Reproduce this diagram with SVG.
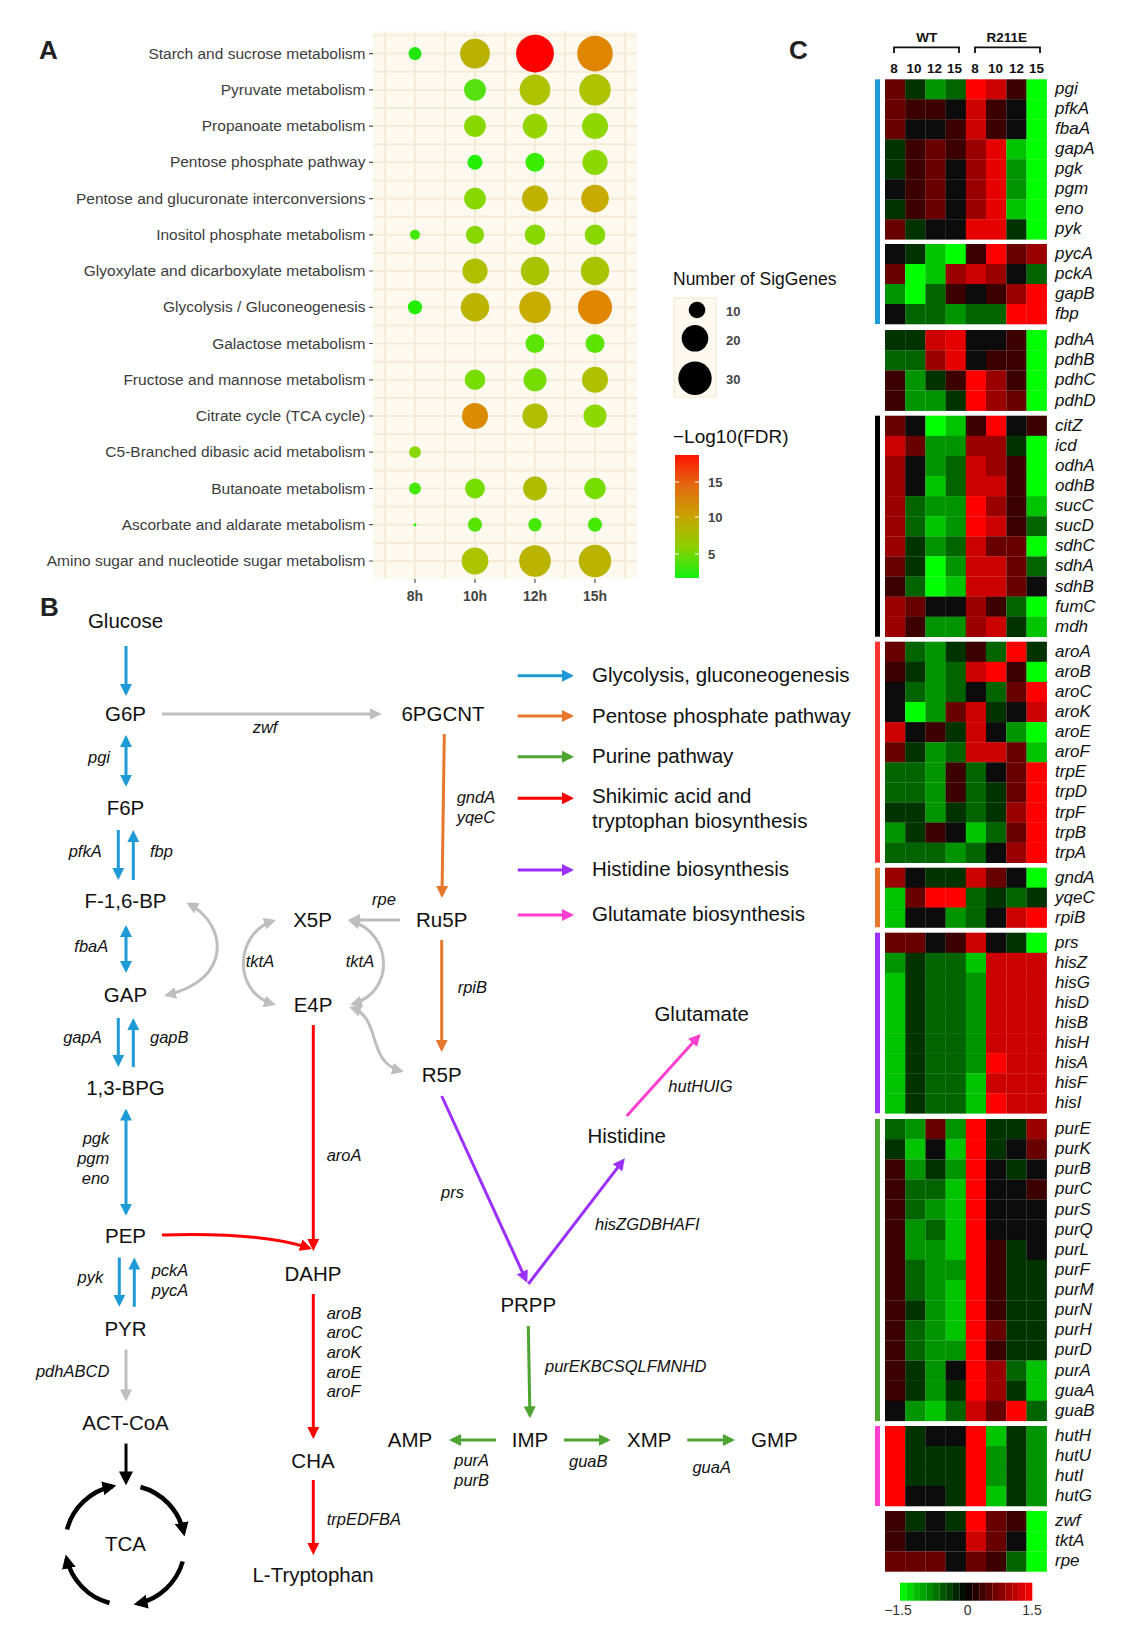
<svg xmlns="http://www.w3.org/2000/svg" width="1142" height="1648" viewBox="0 0 1142 1648">
<style>
text{font-family:"Liberation Sans",Arial,sans-serif}
.pl{font-size:26px;font-weight:bold;fill:#222}
.yl{font-size:15.5px;fill:#3c3c3c;text-anchor:end}
.xl{font-size:14px;font-weight:bold;fill:#444;text-anchor:middle}
.lt{font-size:13px;font-weight:bold;fill:#444}
.nd{font-size:20.5px;fill:#111;text-anchor:middle}
.lg{font-size:20.5px;fill:#111}
.gn{font-size:16.5px;font-style:italic;fill:#111}
.gm{font-size:16.5px;font-style:italic;fill:#111;text-anchor:middle}
.ge{font-size:16.5px;font-style:italic;fill:#111;text-anchor:end}
.hh{font-size:13.5px;font-weight:bold;fill:#111;text-anchor:middle}
.hm rect{width:20.4px;height:20.3px}
.hm text{font-size:17px;font-style:italic;fill:#111}
.hm .G{fill:#00ff00}.hm .H{fill:#00c400}.hm .M{fill:#009400}.hm .N{fill:#006400}.hm .D{fill:#003300}.hm .K{fill:#0c0c0c}
.hm .e{fill:#3c0000}.hm .f{fill:#680000}.hm .h{fill:#9a0000}.hm .i{fill:#cc0000}.hm .j{fill:#e60000}.hm .R{fill:#ff0000}
.cb{stroke:#1E9BD7}.cg{stroke:#BEBEBE}.cr{stroke:#FF0000}.co{stroke:#E8772E}.cp{stroke:#9B30FF}.cm{stroke:#FF3FCF}.cn{stroke:#4DA430}.ck{stroke:#000}
</style>
<defs>
<marker id="mb" viewBox="0 0 12 12" refX="9" refY="6" markerWidth="12" markerHeight="12" markerUnits="userSpaceOnUse" orient="auto-start-reverse"><path d="M0,0L12,6L0,12z" fill="#1E9BD7"/></marker>
<marker id="mg" viewBox="0 0 12 12" refX="9" refY="6" markerWidth="12" markerHeight="12" markerUnits="userSpaceOnUse" orient="auto-start-reverse"><path d="M0,0L12,6L0,12z" fill="#BEBEBE"/></marker>
<marker id="mr" viewBox="0 0 12 12" refX="9" refY="6" markerWidth="12" markerHeight="12" markerUnits="userSpaceOnUse" orient="auto-start-reverse"><path d="M0,0L12,6L0,12z" fill="#FF0000"/></marker>
<marker id="mo" viewBox="0 0 12 12" refX="9" refY="6" markerWidth="12" markerHeight="12" markerUnits="userSpaceOnUse" orient="auto-start-reverse"><path d="M0,0L12,6L0,12z" fill="#E8772E"/></marker>
<marker id="mp" viewBox="0 0 12 12" refX="9" refY="6" markerWidth="12" markerHeight="12" markerUnits="userSpaceOnUse" orient="auto-start-reverse"><path d="M0,0L12,6L0,12z" fill="#9B30FF"/></marker>
<marker id="mm" viewBox="0 0 12 12" refX="9" refY="6" markerWidth="12" markerHeight="12" markerUnits="userSpaceOnUse" orient="auto-start-reverse"><path d="M0,0L12,6L0,12z" fill="#FF3FCF"/></marker>
<marker id="mn" viewBox="0 0 12 12" refX="9" refY="6" markerWidth="12" markerHeight="12" markerUnits="userSpaceOnUse" orient="auto-start-reverse"><path d="M0,0L12,6L0,12z" fill="#4DA430"/></marker>
<marker id="mk" viewBox="0 0 14 14" refX="10" refY="7" markerWidth="14" markerHeight="14" markerUnits="userSpaceOnUse" orient="auto-start-reverse"><path d="M0,0L14,7L0,14z" fill="#000"/></marker>
<linearGradient id="fdr" x1="0" y1="0" x2="0" y2="1">
<stop offset="0" stop-color="#ff1400"/><stop offset="0.25" stop-color="#e26a10"/><stop offset="0.5" stop-color="#c8a400"/><stop offset="0.75" stop-color="#8cd000"/><stop offset="1" stop-color="#14f014"/>
</linearGradient>
</defs>
<rect width="1142" height="1648" fill="#fff"/>

<!-- Panel A -->
<g id="panelA">
<text class="pl" x="39" y="59">A</text>
<rect x="373" y="31.5" width="264" height="547.5" fill="#FDF9EE"/>
<path stroke="#F4ECD6" stroke-width="2" fill="none" d="M385,31.5V579M415,31.5V579M445,31.5V579M475,31.5V579M505,31.5V579M535,31.5V579M565,31.5V579M595,31.5V579M625,31.5V579M373,35.5H637M373,53.6H637M373,71.7H637M373,89.9H637M373,108H637M373,126.1H637M373,144.2H637M373,162.3H637M373,180.5H637M373,198.6H637M373,216.7H637M373,234.8H637M373,252.9H637M373,271.1H637M373,289.2H637M373,307.3H637M373,325.4H637M373,343.5H637M373,361.7H637M373,379.8H637M373,397.9H637M373,416H637M373,434.1H637M373,452.3H637M373,470.4H637M373,488.5H637M373,506.6H637M373,524.7H637M373,542.9H637M373,561H637"/>
<path stroke="#555" stroke-width="1.2" d="M369,53.6H373M369,89.8H373M369,126.1H373M369,162.3H373M369,198.6H373M369,234.8H373M369,271H373M369,307.3H373M369,343.5H373M369,379.8H373M369,416H373M369,452.2H373M369,488.5H373M369,524.7H373M369,561H373M415,579V583M475,579V583M535,579V583M595,579V583"/>
<text class="yl" x="365.5" y="58.6">Starch and sucrose metabolism</text>
<text class="yl" x="365.5" y="94.8">Pyruvate metabolism</text>
<text class="yl" x="365.5" y="131.1">Propanoate metabolism</text>
<text class="yl" x="365.5" y="167.3">Pentose phosphate pathway</text>
<text class="yl" x="365.5" y="203.6">Pentose and glucuronate interconversions</text>
<text class="yl" x="365.5" y="239.8">Inositol phosphate metabolism</text>
<text class="yl" x="365.5" y="276">Glyoxylate and dicarboxylate metabolism</text>
<text class="yl" x="365.5" y="312.3">Glycolysis / Gluconeogenesis</text>
<text class="yl" x="365.5" y="348.5">Galactose metabolism</text>
<text class="yl" x="365.5" y="384.8">Fructose and mannose metabolism</text>
<text class="yl" x="365.5" y="421">Citrate cycle (TCA cycle)</text>
<text class="yl" x="365.5" y="457.2">C5-Branched dibasic acid metabolism</text>
<text class="yl" x="365.5" y="493.5">Butanoate metabolism</text>
<text class="yl" x="365.5" y="529.7">Ascorbate and aldarate metabolism</text>
<text class="yl" x="365.5" y="566">Amino sugar and nucleotide sugar metabolism</text>
<text class="xl" x="415" y="601">8h</text>
<text class="xl" x="475" y="601">10h</text>
<text class="xl" x="535" y="601">12h</text>
<text class="xl" x="595" y="601">15h</text>
<g id="dots">
<circle cx="415" cy="53.6" r="6.5" fill="#22e611"/><circle cx="475" cy="53.6" r="14.9" fill="#bab000"/><circle cx="535" cy="53.6" r="18.9" fill="#ff0000"/><circle cx="595" cy="53.6" r="17.8" fill="#e08500"/>
<circle cx="475" cy="89.8" r="10.9" fill="#55e010"/><circle cx="535" cy="89.8" r="15.4" fill="#aec300"/><circle cx="595" cy="89.8" r="15.8" fill="#aec300"/>
<circle cx="475" cy="126.1" r="10.9" fill="#88d800"/><circle cx="535" cy="126.1" r="12.3" fill="#96d400"/><circle cx="595" cy="126.1" r="13" fill="#90d600"/>
<circle cx="475" cy="162.3" r="7.5" fill="#22f000"/><circle cx="535" cy="162.3" r="9.5" fill="#3aec00"/><circle cx="595" cy="162.3" r="12.6" fill="#8cd800"/>
<circle cx="475" cy="198.6" r="10.9" fill="#88d800"/><circle cx="535" cy="198.6" r="13" fill="#bfb200"/><circle cx="595" cy="198.6" r="13.8" fill="#c9aa00"/>
<circle cx="415" cy="234.8" r="5" fill="#44e800"/><circle cx="475" cy="234.8" r="9.1" fill="#88d800"/><circle cx="535" cy="234.8" r="10.3" fill="#88d800"/><circle cx="595" cy="234.8" r="10.3" fill="#88d800"/>
<circle cx="475" cy="271" r="12.6" fill="#b0c000"/><circle cx="535" cy="271" r="14.2" fill="#a8c400"/><circle cx="595" cy="271" r="14.2" fill="#a8c400"/>
<circle cx="415" cy="307.3" r="7.1" fill="#22ee00"/><circle cx="475" cy="307.3" r="14.2" fill="#bbb400"/><circle cx="535" cy="307.3" r="15.8" fill="#c8ac00"/><circle cx="595" cy="307.3" r="17" fill="#e08600"/>
<circle cx="535" cy="343.5" r="9.5" fill="#5ae400"/><circle cx="595" cy="343.5" r="9.5" fill="#5ae400"/>
<circle cx="475" cy="379.8" r="10.3" fill="#77dc00"/><circle cx="535" cy="379.8" r="11.5" fill="#77dc00"/><circle cx="595" cy="379.8" r="13" fill="#b0c000"/>
<circle cx="475" cy="416" r="13" fill="#da8c00"/><circle cx="535" cy="416" r="12.6" fill="#b2bc00"/><circle cx="595" cy="416" r="11.5" fill="#8cd800"/>
<circle cx="415" cy="452.2" r="5.9" fill="#88d800"/>
<circle cx="415" cy="488.5" r="5.9" fill="#44e800"/><circle cx="475" cy="488.5" r="9.9" fill="#77dc00"/><circle cx="535" cy="488.5" r="11.9" fill="#b0bc00"/><circle cx="595" cy="488.5" r="10.7" fill="#77dc00"/>
<circle cx="415" cy="524.7" r="1.5" fill="#22ee00"/><circle cx="475" cy="524.7" r="7.1" fill="#55e400"/><circle cx="535" cy="524.7" r="6.7" fill="#44e800"/><circle cx="595" cy="524.7" r="7.1" fill="#44e800"/>
<circle cx="475" cy="561" r="13.4" fill="#aac400"/><circle cx="535" cy="561" r="15.8" fill="#bab400"/><circle cx="595" cy="561" r="16.2" fill="#bab400"/>
</g>
<g id="legendA">
<text x="673" y="285" font-size="17.5" fill="#111">Number of SigGenes</text>
<rect x="674" y="298" width="42" height="99" fill="#FDF9EE" stroke="#F1E6C8"/>
<circle cx="697" cy="310" r="8.3" fill="#000"/>
<circle cx="695" cy="338.3" r="13.3" fill="#000"/>
<circle cx="695" cy="378.3" r="16.7" fill="#000"/>
<text class="lt" x="726" y="316">10</text>
<text class="lt" x="726" y="345">20</text>
<text class="lt" x="726" y="383.5">30</text>
<text x="673" y="443" font-size="19" fill="#111">−Log10(FDR)</text>
<rect x="675" y="455" width="24" height="123" fill="url(#fdr)"/>
<path stroke="#fff" stroke-width="1.2" d="M675,482H679M695,482H699M675,517H679M695,517H699M675,554H679M695,554H699"/>
<text class="lt" x="708" y="486.5">15</text>
<text class="lt" x="708" y="521.5">10</text>
<text class="lt" x="708" y="558.5">5</text>
</g>
</g>

<!-- Panel B -->
<text class="pl" x="40" y="615.7">B</text>
<g id="connectors" fill="none" stroke-width="3">
<path class="cb" d="M126,646V693" marker-end="url(#mb)"/>
<path class="cb" d="M126,738V783.7" marker-start="url(#mb)" marker-end="url(#mb)"/>
<path class="cb" d="M118.3,830V877" marker-end="url(#mb)"/>
<path class="cb" d="M133.3,880V833" marker-end="url(#mb)"/>
<path class="cb" d="M126,928V970" marker-start="url(#mb)" marker-end="url(#mb)"/>
<path class="cb" d="M118.3,1018V1064" marker-end="url(#mb)"/>
<path class="cb" d="M133.3,1067V1021" marker-end="url(#mb)"/>
<path class="cb" d="M126,1111.6V1212.7" marker-start="url(#mb)" marker-end="url(#mb)"/>
<path class="cb" d="M119.3,1257.5V1303.8" marker-end="url(#mb)"/>
<path class="cb" d="M134.3,1306.8V1260.5" marker-end="url(#mb)"/>
<path class="cg" d="M162,714H378.7" marker-end="url(#mg)"/>
<path class="cg" d="M126,1349.6V1398.4" marker-end="url(#mg)"/>
<path class="cg" d="M400,920H351" marker-end="url(#mg)"/>
<path class="cg" d="M189,904C228,925 232,980 167,995" marker-start="url(#mg)" marker-end="url(#mg)"/>
<path class="cg" d="M273,921C235,933 232,992 273,1004" marker-start="url(#mg)" marker-end="url(#mg)"/>
<path class="cg" d="M351,921C393,933 395,992 353,1004" marker-start="url(#mg)" marker-end="url(#mg)"/>
<path class="cg" d="M352,1008C382,1018 366,1062 401,1071" marker-start="url(#mg)" marker-end="url(#mg)"/>
<path class="cr" d="M313.3,1025V1248" marker-end="url(#mr)"/>
<path class="cr" d="M162,1235C230,1233 280,1238 309,1248" marker-end="url(#mr)"/>
<path class="cr" d="M313.3,1294V1436" marker-end="url(#mr)"/>
<path class="cr" d="M313.3,1480V1552" marker-end="url(#mr)"/>
<path class="co" d="M444.3,734L442,895" marker-end="url(#mo)"/>
<path class="co" d="M441.7,940V1049" marker-end="url(#mo)"/>
<path class="cp" d="M441.7,1096L526,1280" marker-end="url(#mp)"/>
<path class="cp" d="M528.3,1284L623,1160.6" marker-end="url(#mp)"/>
<path class="cm" d="M626.7,1116L698.6,1036.2" marker-end="url(#mm)"/>
<path class="cn" d="M528.3,1326L529.9,1415.3" marker-end="url(#mn)"/>
<path class="cn" d="M496,1440H452" marker-end="url(#mn)"/>
<path class="cn" d="M564,1440H607.7" marker-end="url(#mn)"/>
<path class="cn" d="M687.3,1440H732" marker-end="url(#mn)"/>
<path class="ck" d="M126,1443.6V1481.4" marker-end="url(#mk)"/>
<g stroke-width="4.5">
<path class="ck" d="M67,1529.5A60,60 0 0 1 112.5,1486.3" marker-end="url(#mk)"/>
<path class="ck" d="M140.5,1487A60,60 0 0 1 183.7,1532.5" marker-end="url(#mk)"/>
<path class="ck" d="M182.7,1561.5A60,60 0 0 1 137.5,1603.7" marker-end="url(#mk)"/>
<path class="ck" d="M109.5,1603A60,60 0 0 1 66.6,1558.5" marker-end="url(#mk)"/>
</g>
<path class="cb" d="M517.7,675.7H571" marker-end="url(#mb)"/>
<path class="co" d="M517.7,716H571" marker-end="url(#mo)"/>
<path class="cn" d="M517.7,756.7H571" marker-end="url(#mn)"/>
<path class="cr" d="M517.7,798.3H571" marker-end="url(#mr)"/>
<path class="cp" d="M517.7,870H571" marker-end="url(#mp)"/>
<path class="cm" d="M517.7,915H571" marker-end="url(#mm)"/>
</g>
<g id="genes">
<text class="gm" x="265" y="733">zwf</text>
<text class="ge" x="110" y="763">pgi</text>
<text class="ge" x="101.7" y="856.7">pfkA</text>
<text class="gn" x="150" y="856.7">fbp</text>
<text class="ge" x="108.3" y="951.7">fbaA</text>
<text class="ge" x="101.7" y="1043">gapA</text>
<text class="gn" x="150" y="1043">gapB</text>
<text class="ge" x="109.3" y="1143.6">pgk</text>
<text class="ge" x="109.3" y="1163.6">pgm</text>
<text class="ge" x="109.3" y="1183.6">eno</text>
<text class="ge" x="103.3" y="1283">pyk</text>
<text class="gn" x="151.7" y="1275.7">pckA</text>
<text class="gn" x="151.7" y="1296">pycA</text>
<text class="ge" x="109.3" y="1377">pdhABCD</text>
<text class="gm" x="384" y="905">rpe</text>
<text class="gm" x="260" y="966.7">tktA</text>
<text class="gm" x="360" y="966.7">tktA</text>
<text class="gn" x="456.7" y="802.7">gndA</text>
<text class="gn" x="456.7" y="822.7">yqeC</text>
<text class="gn" x="457.7" y="993.3">rpiB</text>
<text class="gn" x="326.7" y="1161.4">aroA</text>
<text class="gn" x="326.7" y="1318.6">aroB</text>
<text class="gn" x="326.7" y="1337.9">aroC</text>
<text class="gn" x="326.7" y="1357.9">aroK</text>
<text class="gn" x="326.7" y="1377.9">aroE</text>
<text class="gn" x="326.7" y="1397.1">aroF</text>
<text class="gn" x="326.7" y="1524.6">trpEDFBA</text>
<text class="gn" x="441" y="1197.7">prs</text>
<text class="gn" x="595" y="1230">hisZGDBHAFI</text>
<text class="gn" x="668.3" y="1091.7">hutHUIG</text>
<text class="gn" x="545" y="1371.7">purEKBCSQLFMNHD</text>
<text class="gm" x="471.7" y="1466">purA</text>
<text class="gm" x="471.7" y="1485.7">purB</text>
<text class="gm" x="588.3" y="1466.7">guaB</text>
<text class="gm" x="711.7" y="1472.7">guaA</text>
</g>
<g id="n-glucose"><text class="nd" x="125.5" y="628">Glucose</text></g>
<g id="n-g6p"><text class="nd" x="125.5" y="721">G6P</text></g>
<g id="n-f6p"><text class="nd" x="125.5" y="815">F6P</text></g>
<g id="n-f16bp"><text class="nd" x="125.5" y="908">F-1,6-BP</text></g>
<g id="n-gap"><text class="nd" x="125.5" y="1001.5">GAP</text></g>
<g id="n-13bpg"><text class="nd" x="125.5" y="1095">1,3-BPG</text></g>
<g id="n-pep"><text class="nd" x="125.5" y="1243">PEP</text></g>
<g id="n-pyr"><text class="nd" x="125.5" y="1336">PYR</text></g>
<g id="n-actcoa"><text class="nd" x="125.5" y="1430">ACT-CoA</text></g>
<g id="n-tca"><text class="nd" x="125.5" y="1551">TCA</text></g>
<g id="n-6pgcnt"><text class="nd" x="443" y="721">6PGCNT</text></g>
<g id="n-x5p"><text class="nd" x="312.5" y="926.7">X5P</text></g>
<g id="n-e4p"><text class="nd" x="313" y="1011.7">E4P</text></g>
<g id="n-ru5p"><text class="nd" x="441.7" y="926.7">Ru5P</text></g>
<g id="n-r5p"><text class="nd" x="441.7" y="1081.7">R5P</text></g>
<g id="n-dahp"><text class="nd" x="313" y="1281">DAHP</text></g>
<g id="n-cha"><text class="nd" x="313" y="1467.5">CHA</text></g>
<g id="n-ltrp"><text class="nd" x="313" y="1582">L-Tryptophan</text></g>
<g id="n-glutamate"><text class="nd" x="701.7" y="1020.7">Glutamate</text></g>
<g id="n-histidine"><text class="nd" x="626.7" y="1143.3">Histidine</text></g>
<g id="n-prpp"><text class="nd" x="528.3" y="1311.7">PRPP</text></g>
<g id="n-amp"><text class="nd" x="410" y="1446.7">AMP</text></g>
<g id="n-imp"><text class="nd" x="530" y="1446.7">IMP</text></g>
<g id="n-xmp"><text class="nd" x="649.3" y="1446.7">XMP</text></g>
<g id="n-gmp"><text class="nd" x="774.3" y="1446.7">GMP</text></g>
<g id="legendB">
<text class="lg" x="592" y="681.7">Glycolysis, gluconeogenesis</text>
<text class="lg" x="592" y="722.7">Pentose phosphate pathway</text>
<text class="lg" x="592" y="763.3">Purine pathway</text>
<text class="lg" x="592" y="803.3">Shikimic acid and</text>
<text class="lg" x="592" y="828.3">tryptophan biosynthesis</text>
<text class="lg" x="592" y="876">Histidine biosynthesis</text>
<text class="lg" x="592" y="920.7">Glutamate biosynthesis</text>
</g>

<!-- Panel C -->
<g id="panelC">
<text class="pl" x="789" y="59.3">C</text>
<text class="hh" x="926.7" y="42" font-size="14">WT</text>
<text class="hh" x="1006.7" y="42" font-size="14">R211E</text>
<path d="M894,53V47.3H959V53M975,53V47.3H1040V53" fill="none" stroke="#111" stroke-width="1.8"/>
<text class="hh" x="894" y="73.3">8</text><text class="hh" x="914" y="73.3">10</text><text class="hh" x="934.5" y="73.3">12</text><text class="hh" x="954.5" y="73.3">15</text>
<text class="hh" x="975" y="73.3">8</text><text class="hh" x="995.5" y="73.3">10</text><text class="hh" x="1016.5" y="73.3">12</text><text class="hh" x="1036.5" y="73.3">15</text>
<rect x="875" y="79.3" width="5" height="244.7" fill="#1E9BD7"/>
<rect x="875" y="415.7" width="5" height="221" fill="#000"/>
<rect x="875" y="641.7" width="5" height="221" fill="#FF3333"/>
<rect x="875" y="867.7" width="5" height="59.6" fill="#E8772E"/>
<rect x="875" y="932.7" width="5" height="180.6" fill="#9B30FF"/>
<rect x="875" y="1119" width="5" height="302" fill="#4DA430"/>
<rect x="875" y="1426" width="5" height="80" fill="#FF3FCF"/>
<g class="hm">
<g transform="translate(885,79.3)"><rect class="f"/><rect x="20.2" class="D"/><rect x="40.4" class="M"/><rect x="60.6" class="N"/><rect x="80.8" class="R"/><rect x="101" class="i"/><rect x="121.3" class="e"/><rect x="141.5" class="G"/><text x="170" y="15">pgi</text></g>
<g transform="translate(885,99.3)"><rect class="f"/><rect x="20.2" class="e"/><rect x="40.4" class="e"/><rect x="60.6" class="K"/><rect x="80.8" class="i"/><rect x="101" class="e"/><rect x="121.3" class="K"/><rect x="141.5" class="G"/><text x="170" y="15">pfkA</text></g>
<g transform="translate(885,119.3)"><rect class="f"/><rect x="20.2" class="K"/><rect x="40.4" class="K"/><rect x="60.6" class="e"/><rect x="80.8" class="i"/><rect x="101" class="e"/><rect x="121.3" class="K"/><rect x="141.5" class="G"/><text x="170" y="15">fbaA</text></g>
<g transform="translate(885,139.3)"><rect class="D"/><rect x="20.2" class="e"/><rect x="40.4" class="f"/><rect x="60.6" class="e"/><rect x="80.8" class="h"/><rect x="101" class="j"/><rect x="121.3" class="H"/><rect x="141.5" class="G"/><text x="170" y="15">gapA</text></g>
<g transform="translate(885,159.3)"><rect class="D"/><rect x="20.2" class="e"/><rect x="40.4" class="f"/><rect x="60.6" class="K"/><rect x="80.8" class="h"/><rect x="101" class="j"/><rect x="121.3" class="M"/><rect x="141.5" class="G"/><text x="170" y="15">pgk</text></g>
<g transform="translate(885,179.3)"><rect class="K"/><rect x="20.2" class="e"/><rect x="40.4" class="f"/><rect x="60.6" class="K"/><rect x="80.8" class="h"/><rect x="101" class="j"/><rect x="121.3" class="M"/><rect x="141.5" class="G"/><text x="170" y="15">pgm</text></g>
<g transform="translate(885,199.3)"><rect class="D"/><rect x="20.2" class="e"/><rect x="40.4" class="f"/><rect x="60.6" class="K"/><rect x="80.8" class="h"/><rect x="101" class="j"/><rect x="121.3" class="H"/><rect x="141.5" class="G"/><text x="170" y="15">eno</text></g>
<g transform="translate(885,219.3)"><rect class="f"/><rect x="20.2" class="D"/><rect x="40.4" class="K"/><rect x="60.6" class="K"/><rect x="80.8" class="j"/><rect x="101" class="j"/><rect x="121.3" class="D"/><rect x="141.5" class="G"/><text x="170" y="15">pyk</text></g>
<g transform="translate(885,244)"><rect class="K"/><rect x="20.2" class="D"/><rect x="40.4" class="H"/><rect x="60.6" class="G"/><rect x="80.8" class="e"/><rect x="101" class="R"/><rect x="121.3" class="f"/><rect x="141.5" class="h"/><text x="170" y="15">pycA</text></g>
<g transform="translate(885,264)"><rect class="f"/><rect x="20.2" class="G"/><rect x="40.4" class="H"/><rect x="60.6" class="h"/><rect x="80.8" class="i"/><rect x="101" class="h"/><rect x="121.3" class="K"/><rect x="141.5" class="N"/><text x="170" y="15">pckA</text></g>
<g transform="translate(885,284)"><rect class="M"/><rect x="20.2" class="G"/><rect x="40.4" class="N"/><rect x="60.6" class="e"/><rect x="80.8" class="K"/><rect x="101" class="e"/><rect x="121.3" class="h"/><rect x="141.5" class="R"/><text x="170" y="15">gapB</text></g>
<g transform="translate(885,304)"><rect class="K"/><rect x="20.2" class="N"/><rect x="40.4" class="N"/><rect x="60.6" class="M"/><rect x="80.8" class="N"/><rect x="101" class="N"/><rect x="121.3" class="R"/><rect x="141.5" class="R"/><text x="170" y="15">fbp</text></g>
<g transform="translate(885,330)"><rect class="D"/><rect x="20.2" class="D"/><rect x="40.4" class="i"/><rect x="60.6" class="j"/><rect x="80.8" class="K"/><rect x="101" class="K"/><rect x="121.3" class="e"/><rect x="141.5" class="G"/><text x="170" y="15">pdhA</text></g>
<g transform="translate(885,350.2)"><rect class="N"/><rect x="20.2" class="N"/><rect x="40.4" class="h"/><rect x="60.6" class="j"/><rect x="80.8" class="K"/><rect x="101" class="e"/><rect x="121.3" class="e"/><rect x="141.5" class="G"/><text x="170" y="15">pdhB</text></g>
<g transform="translate(885,370.4)"><rect class="e"/><rect x="20.2" class="M"/><rect x="40.4" class="D"/><rect x="60.6" class="e"/><rect x="80.8" class="R"/><rect x="101" class="h"/><rect x="121.3" class="e"/><rect x="141.5" class="G"/><text x="170" y="15">pdhC</text></g>
<g transform="translate(885,390.6)"><rect class="e"/><rect x="20.2" class="M"/><rect x="40.4" class="M"/><rect x="60.6" class="D"/><rect x="80.8" class="R"/><rect x="101" class="h"/><rect x="121.3" class="f"/><rect x="141.5" class="G"/><text x="170" y="15">pdhD</text></g>
<g transform="translate(885,415.7)"><rect class="f"/><rect x="20.2" class="K"/><rect x="40.4" class="G"/><rect x="60.6" class="H"/><rect x="80.8" class="e"/><rect x="101" class="R"/><rect x="121.3" class="K"/><rect x="141.5" class="e"/><text x="170" y="15">citZ</text></g>
<g transform="translate(885,435.8)"><rect class="i"/><rect x="20.2" class="f"/><rect x="40.4" class="M"/><rect x="60.6" class="M"/><rect x="80.8" class="h"/><rect x="101" class="h"/><rect x="121.3" class="D"/><rect x="141.5" class="G"/><text x="170" y="15">icd</text></g>
<g transform="translate(885,455.9)"><rect class="h"/><rect x="20.2" class="K"/><rect x="40.4" class="M"/><rect x="60.6" class="N"/><rect x="80.8" class="i"/><rect x="101" class="h"/><rect x="121.3" class="e"/><rect x="141.5" class="G"/><text x="170" y="15">odhA</text></g>
<g transform="translate(885,476)"><rect class="h"/><rect x="20.2" class="K"/><rect x="40.4" class="H"/><rect x="60.6" class="N"/><rect x="80.8" class="i"/><rect x="101" class="i"/><rect x="121.3" class="e"/><rect x="141.5" class="G"/><text x="170" y="15">odhB</text></g>
<g transform="translate(885,496.1)"><rect class="h"/><rect x="20.2" class="N"/><rect x="40.4" class="M"/><rect x="60.6" class="M"/><rect x="80.8" class="R"/><rect x="101" class="h"/><rect x="121.3" class="e"/><rect x="141.5" class="H"/><text x="170" y="15">sucC</text></g>
<g transform="translate(885,516.2)"><rect class="h"/><rect x="20.2" class="N"/><rect x="40.4" class="H"/><rect x="60.6" class="M"/><rect x="80.8" class="R"/><rect x="101" class="i"/><rect x="121.3" class="e"/><rect x="141.5" class="N"/><text x="170" y="15">sucD</text></g>
<g transform="translate(885,536.3)"><rect class="h"/><rect x="20.2" class="D"/><rect x="40.4" class="M"/><rect x="60.6" class="N"/><rect x="80.8" class="i"/><rect x="101" class="f"/><rect x="121.3" class="f"/><rect x="141.5" class="G"/><text x="170" y="15">sdhC</text></g>
<g transform="translate(885,556.4)"><rect class="f"/><rect x="20.2" class="D"/><rect x="40.4" class="G"/><rect x="60.6" class="M"/><rect x="80.8" class="i"/><rect x="101" class="i"/><rect x="121.3" class="f"/><rect x="141.5" class="N"/><text x="170" y="15">sdhA</text></g>
<g transform="translate(885,576.5)"><rect class="e"/><rect x="20.2" class="N"/><rect x="40.4" class="G"/><rect x="60.6" class="H"/><rect x="80.8" class="i"/><rect x="101" class="i"/><rect x="121.3" class="f"/><rect x="141.5" class="K"/><text x="170" y="15">sdhB</text></g>
<g transform="translate(885,596.6)"><rect class="h"/><rect x="20.2" class="f"/><rect x="40.4" class="K"/><rect x="60.6" class="K"/><rect x="80.8" class="h"/><rect x="101" class="e"/><rect x="121.3" class="N"/><rect x="141.5" class="G"/><text x="170" y="15">fumC</text></g>
<g transform="translate(885,616.7)"><rect class="h"/><rect x="20.2" class="e"/><rect x="40.4" class="M"/><rect x="60.6" class="M"/><rect x="80.8" class="h"/><rect x="101" class="i"/><rect x="121.3" class="D"/><rect x="141.5" class="H"/><text x="170" y="15">mdh</text></g>
<g transform="translate(885,641.7)"><rect class="f"/><rect x="20.2" class="N"/><rect x="40.4" class="M"/><rect x="60.6" class="D"/><rect x="80.8" class="e"/><rect x="101" class="N"/><rect x="121.3" class="R"/><rect x="141.5" class="D"/><text x="170" y="15">aroA</text></g>
<g transform="translate(885,661.8)"><rect class="e"/><rect x="20.2" class="D"/><rect x="40.4" class="M"/><rect x="60.6" class="N"/><rect x="80.8" class="i"/><rect x="101" class="R"/><rect x="121.3" class="e"/><rect x="141.5" class="G"/><text x="170" y="15">aroB</text></g>
<g transform="translate(885,681.9)"><rect class="K"/><rect x="20.2" class="N"/><rect x="40.4" class="M"/><rect x="60.6" class="N"/><rect x="80.8" class="K"/><rect x="101" class="N"/><rect x="121.3" class="f"/><rect x="141.5" class="R"/><text x="170" y="15">aroC</text></g>
<g transform="translate(885,702)"><rect class="K"/><rect x="20.2" class="G"/><rect x="40.4" class="M"/><rect x="60.6" class="f"/><rect x="80.8" class="i"/><rect x="101" class="D"/><rect x="121.3" class="K"/><rect x="141.5" class="i"/><text x="170" y="15">aroK</text></g>
<g transform="translate(885,722.1)"><rect class="i"/><rect x="20.2" class="K"/><rect x="40.4" class="e"/><rect x="60.6" class="D"/><rect x="80.8" class="i"/><rect x="101" class="K"/><rect x="121.3" class="M"/><rect x="141.5" class="G"/><text x="170" y="15">aroE</text></g>
<g transform="translate(885,742.2)"><rect class="f"/><rect x="20.2" class="D"/><rect x="40.4" class="M"/><rect x="60.6" class="N"/><rect x="80.8" class="i"/><rect x="101" class="i"/><rect x="121.3" class="f"/><rect x="141.5" class="H"/><text x="170" y="15">aroF</text></g>
<g transform="translate(885,762.3)"><rect class="N"/><rect x="20.2" class="N"/><rect x="40.4" class="M"/><rect x="60.6" class="e"/><rect x="80.8" class="N"/><rect x="101" class="K"/><rect x="121.3" class="f"/><rect x="141.5" class="R"/><text x="170" y="15">trpE</text></g>
<g transform="translate(885,782.4)"><rect class="N"/><rect x="20.2" class="N"/><rect x="40.4" class="M"/><rect x="60.6" class="e"/><rect x="80.8" class="N"/><rect x="101" class="D"/><rect x="121.3" class="f"/><rect x="141.5" class="R"/><text x="170" y="15">trpD</text></g>
<g transform="translate(885,802.5)"><rect class="D"/><rect x="20.2" class="D"/><rect x="40.4" class="M"/><rect x="60.6" class="D"/><rect x="80.8" class="N"/><rect x="101" class="D"/><rect x="121.3" class="h"/><rect x="141.5" class="R"/><text x="170" y="15">trpF</text></g>
<g transform="translate(885,822.6)"><rect class="M"/><rect x="20.2" class="D"/><rect x="40.4" class="e"/><rect x="60.6" class="K"/><rect x="80.8" class="H"/><rect x="101" class="N"/><rect x="121.3" class="f"/><rect x="141.5" class="R"/><text x="170" y="15">trpB</text></g>
<g transform="translate(885,842.7)"><rect class="N"/><rect x="20.2" class="N"/><rect x="40.4" class="N"/><rect x="60.6" class="M"/><rect x="80.8" class="N"/><rect x="101" class="K"/><rect x="121.3" class="h"/><rect x="141.5" class="R"/><text x="170" y="15">trpA</text></g>
<g transform="translate(885,867.7)"><rect class="h"/><rect x="20.2" class="K"/><rect x="40.4" class="D"/><rect x="60.6" class="D"/><rect x="80.8" class="i"/><rect x="101" class="f"/><rect x="121.3" class="K"/><rect x="141.5" class="G"/><text x="170" y="15">gndA</text></g>
<g transform="translate(885,887.6)"><rect class="H"/><rect x="20.2" class="f"/><rect x="40.4" class="R"/><rect x="60.6" class="R"/><rect x="80.8" class="N"/><rect x="101" class="D"/><rect x="121.3" class="N"/><rect x="141.5" class="D"/><text x="170" y="15">yqeC</text></g>
<g transform="translate(885,907.5)"><rect class="H"/><rect x="20.2" class="K"/><rect x="40.4" class="K"/><rect x="60.6" class="M"/><rect x="80.8" class="N"/><rect x="101" class="K"/><rect x="121.3" class="i"/><rect x="141.5" class="R"/><text x="170" y="15">rpiB</text></g>
<g transform="translate(885,932.7)"><rect class="f"/><rect x="20.2" class="f"/><rect x="40.4" class="K"/><rect x="60.6" class="e"/><rect x="80.8" class="i"/><rect x="101" class="K"/><rect x="121.3" class="D"/><rect x="141.5" class="G"/><text x="170" y="15">prs</text></g>
<g transform="translate(885,952.8)"><rect class="M"/><rect x="20.2" class="D"/><rect x="40.4" class="N"/><rect x="60.6" class="N"/><rect x="80.8" class="H"/><rect x="101" class="i"/><rect x="121.3" class="i"/><rect x="141.5" class="i"/><text x="170" y="15">hisZ</text></g>
<g transform="translate(885,972.8)"><rect class="H"/><rect x="20.2" class="D"/><rect x="40.4" class="N"/><rect x="60.6" class="N"/><rect x="80.8" class="M"/><rect x="101" class="i"/><rect x="121.3" class="i"/><rect x="141.5" class="i"/><text x="170" y="15">hisG</text></g>
<g transform="translate(885,992.9)"><rect class="H"/><rect x="20.2" class="D"/><rect x="40.4" class="N"/><rect x="60.6" class="N"/><rect x="80.8" class="M"/><rect x="101" class="i"/><rect x="121.3" class="i"/><rect x="141.5" class="i"/><text x="170" y="15">hisD</text></g>
<g transform="translate(885,1013)"><rect class="H"/><rect x="20.2" class="D"/><rect x="40.4" class="N"/><rect x="60.6" class="N"/><rect x="80.8" class="M"/><rect x="101" class="i"/><rect x="121.3" class="i"/><rect x="141.5" class="i"/><text x="170" y="15">hisB</text></g>
<g transform="translate(885,1033.1)"><rect class="H"/><rect x="20.2" class="D"/><rect x="40.4" class="N"/><rect x="60.6" class="N"/><rect x="80.8" class="M"/><rect x="101" class="i"/><rect x="121.3" class="i"/><rect x="141.5" class="i"/><text x="170" y="15">hisH</text></g>
<g transform="translate(885,1053.1)"><rect class="H"/><rect x="20.2" class="D"/><rect x="40.4" class="N"/><rect x="60.6" class="N"/><rect x="80.8" class="M"/><rect x="101" class="R"/><rect x="121.3" class="i"/><rect x="141.5" class="i"/><text x="170" y="15">hisA</text></g>
<g transform="translate(885,1073.2)"><rect class="H"/><rect x="20.2" class="D"/><rect x="40.4" class="N"/><rect x="60.6" class="N"/><rect x="80.8" class="H"/><rect x="101" class="i"/><rect x="121.3" class="i"/><rect x="141.5" class="i"/><text x="170" y="15">hisF</text></g>
<g transform="translate(885,1093.3)"><rect class="H"/><rect x="20.2" class="D"/><rect x="40.4" class="N"/><rect x="60.6" class="N"/><rect x="80.8" class="H"/><rect x="101" class="R"/><rect x="121.3" class="i"/><rect x="141.5" class="i"/><text x="170" y="15">hisI</text></g>
<g transform="translate(885,1119)"><rect class="N"/><rect x="20.2" class="M"/><rect x="40.4" class="f"/><rect x="60.6" class="M"/><rect x="80.8" class="R"/><rect x="101" class="D"/><rect x="121.3" class="D"/><rect x="141.5" class="h"/><text x="170" y="15">purE</text></g>
<g transform="translate(885,1139.1)"><rect class="D"/><rect x="20.2" class="H"/><rect x="40.4" class="K"/><rect x="60.6" class="H"/><rect x="80.8" class="R"/><rect x="101" class="D"/><rect x="121.3" class="K"/><rect x="141.5" class="f"/><text x="170" y="15">purK</text></g>
<g transform="translate(885,1159.3)"><rect class="e"/><rect x="20.2" class="M"/><rect x="40.4" class="D"/><rect x="60.6" class="M"/><rect x="80.8" class="R"/><rect x="101" class="K"/><rect x="121.3" class="D"/><rect x="141.5" class="K"/><text x="170" y="15">purB</text></g>
<g transform="translate(885,1179.4)"><rect class="e"/><rect x="20.2" class="N"/><rect x="40.4" class="N"/><rect x="60.6" class="H"/><rect x="80.8" class="R"/><rect x="101" class="K"/><rect x="121.3" class="K"/><rect x="141.5" class="e"/><text x="170" y="15">purC</text></g>
<g transform="translate(885,1199.5)"><rect class="e"/><rect x="20.2" class="N"/><rect x="40.4" class="M"/><rect x="60.6" class="H"/><rect x="80.8" class="R"/><rect x="101" class="K"/><rect x="121.3" class="K"/><rect x="141.5" class="K"/><text x="170" y="15">purS</text></g>
<g transform="translate(885,1219.7)"><rect class="e"/><rect x="20.2" class="M"/><rect x="40.4" class="N"/><rect x="60.6" class="H"/><rect x="80.8" class="R"/><rect x="101" class="K"/><rect x="121.3" class="K"/><rect x="141.5" class="K"/><text x="170" y="15">purQ</text></g>
<g transform="translate(885,1239.8)"><rect class="e"/><rect x="20.2" class="M"/><rect x="40.4" class="M"/><rect x="60.6" class="H"/><rect x="80.8" class="R"/><rect x="101" class="e"/><rect x="121.3" class="D"/><rect x="141.5" class="K"/><text x="170" y="15">purL</text></g>
<g transform="translate(885,1259.9)"><rect class="e"/><rect x="20.2" class="N"/><rect x="40.4" class="M"/><rect x="60.6" class="M"/><rect x="80.8" class="R"/><rect x="101" class="e"/><rect x="121.3" class="D"/><rect x="141.5" class="D"/><text x="170" y="15">purF</text></g>
<g transform="translate(885,1280)"><rect class="e"/><rect x="20.2" class="N"/><rect x="40.4" class="M"/><rect x="60.6" class="H"/><rect x="80.8" class="R"/><rect x="101" class="e"/><rect x="121.3" class="D"/><rect x="141.5" class="D"/><text x="170" y="15">purM</text></g>
<g transform="translate(885,1300.2)"><rect class="e"/><rect x="20.2" class="D"/><rect x="40.4" class="M"/><rect x="60.6" class="H"/><rect x="80.8" class="R"/><rect x="101" class="e"/><rect x="121.3" class="D"/><rect x="141.5" class="D"/><text x="170" y="15">purN</text></g>
<g transform="translate(885,1320.3)"><rect class="e"/><rect x="20.2" class="N"/><rect x="40.4" class="M"/><rect x="60.6" class="H"/><rect x="80.8" class="R"/><rect x="101" class="f"/><rect x="121.3" class="D"/><rect x="141.5" class="D"/><text x="170" y="15">purH</text></g>
<g transform="translate(885,1340.4)"><rect class="e"/><rect x="20.2" class="N"/><rect x="40.4" class="M"/><rect x="60.6" class="M"/><rect x="80.8" class="R"/><rect x="101" class="e"/><rect x="121.3" class="D"/><rect x="141.5" class="D"/><text x="170" y="15">purD</text></g>
<g transform="translate(885,1360.6)"><rect class="e"/><rect x="20.2" class="D"/><rect x="40.4" class="M"/><rect x="60.6" class="K"/><rect x="80.8" class="R"/><rect x="101" class="h"/><rect x="121.3" class="N"/><rect x="141.5" class="H"/><text x="170" y="15">purA</text></g>
<g transform="translate(885,1380.7)"><rect class="e"/><rect x="20.2" class="D"/><rect x="40.4" class="M"/><rect x="60.6" class="D"/><rect x="80.8" class="R"/><rect x="101" class="h"/><rect x="121.3" class="D"/><rect x="141.5" class="H"/><text x="170" y="15">guaA</text></g>
<g transform="translate(885,1400.8)"><rect class="K"/><rect x="20.2" class="M"/><rect x="40.4" class="H"/><rect x="60.6" class="N"/><rect x="80.8" class="i"/><rect x="101" class="f"/><rect x="121.3" class="R"/><rect x="141.5" class="N"/><text x="170" y="15">guaB</text></g>
<g transform="translate(885,1426)"><rect class="R"/><rect x="20.2" class="D"/><rect x="40.4" class="K"/><rect x="60.6" class="K"/><rect x="80.8" class="R"/><rect x="101" class="H"/><rect x="121.3" class="D"/><rect x="141.5" class="M"/><text x="170" y="15">hutH</text></g>
<g transform="translate(885,1446)"><rect class="R"/><rect x="20.2" class="D"/><rect x="40.4" class="D"/><rect x="60.6" class="D"/><rect x="80.8" class="R"/><rect x="101" class="M"/><rect x="121.3" class="D"/><rect x="141.5" class="M"/><text x="170" y="15">hutU</text></g>
<g transform="translate(885,1466)"><rect class="R"/><rect x="20.2" class="D"/><rect x="40.4" class="D"/><rect x="60.6" class="D"/><rect x="80.8" class="R"/><rect x="101" class="M"/><rect x="121.3" class="D"/><rect x="141.5" class="M"/><text x="170" y="15">hutI</text></g>
<g transform="translate(885,1486)"><rect class="R"/><rect x="20.2" class="K"/><rect x="40.4" class="K"/><rect x="60.6" class="D"/><rect x="80.8" class="R"/><rect x="101" class="H"/><rect x="121.3" class="D"/><rect x="141.5" class="M"/><text x="170" y="15">hutG</text></g>
<g transform="translate(885,1511)"><rect class="e"/><rect x="20.2" class="D"/><rect x="40.4" class="K"/><rect x="60.6" class="D"/><rect x="80.8" class="R"/><rect x="101" class="f"/><rect x="121.3" class="e"/><rect x="141.5" class="G"/><text x="170" y="15">zwf</text></g>
<g transform="translate(885,1531.2)"><rect class="e"/><rect x="20.2" class="K"/><rect x="40.4" class="K"/><rect x="60.6" class="K"/><rect x="80.8" class="i"/><rect x="101" class="f"/><rect x="121.3" class="K"/><rect x="141.5" class="G"/><text x="170" y="15">tktA</text></g>
<g transform="translate(885,1551.4)"><rect class="f"/><rect x="20.2" class="f"/><rect x="40.4" class="f"/><rect x="60.6" class="K"/><rect x="80.8" class="f"/><rect x="101" class="e"/><rect x="121.3" class="N"/><rect x="141.5" class="G"/><text x="170" y="15">rpe</text></g>
</g>
<g id="scaleC">
<rect x="900" y="1582.7" width="6.7" height="18" fill="#00f200"/>
<rect x="906.6" y="1582.7" width="6.7" height="18" fill="#00d900"/>
<rect x="913.2" y="1582.7" width="6.7" height="18" fill="#00bf00"/>
<rect x="919.8" y="1582.7" width="6.7" height="18" fill="#00a600"/>
<rect x="926.4" y="1582.7" width="6.7" height="18" fill="#008c00"/>
<rect x="933" y="1582.7" width="6.7" height="18" fill="#007300"/>
<rect x="939.6" y="1582.7" width="6.7" height="18" fill="#005900"/>
<rect x="946.2" y="1582.7" width="6.7" height="18" fill="#004000"/>
<rect x="952.8" y="1582.7" width="6.7" height="18" fill="#002600"/>
<rect x="959.4" y="1582.7" width="6.7" height="18" fill="#000d00"/>
<rect x="966" y="1582.7" width="6.7" height="18" fill="#0d0000"/>
<rect x="972.6" y="1582.7" width="6.7" height="18" fill="#260000"/>
<rect x="979.2" y="1582.7" width="6.7" height="18" fill="#400000"/>
<rect x="985.8" y="1582.7" width="6.7" height="18" fill="#590000"/>
<rect x="992.4" y="1582.7" width="6.7" height="18" fill="#730000"/>
<rect x="999" y="1582.7" width="6.7" height="18" fill="#8c0000"/>
<rect x="1005.6" y="1582.7" width="6.7" height="18" fill="#a60000"/>
<rect x="1012.2" y="1582.7" width="6.7" height="18" fill="#bf0000"/>
<rect x="1018.8" y="1582.7" width="6.7" height="18" fill="#d90000"/>
<rect x="1025.4" y="1582.7" width="6.9" height="18" fill="#f20000"/>
<text x="898" y="1615" font-size="14" fill="#333" text-anchor="middle">−1.5</text>
<text x="967.7" y="1615" font-size="14" fill="#333" text-anchor="middle">0</text>
<text x="1032" y="1615" font-size="14" fill="#333" text-anchor="middle">1.5</text>
</g>
</g>
</svg>
